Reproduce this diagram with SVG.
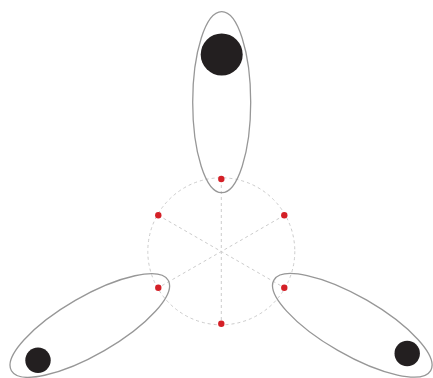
<svg xmlns="http://www.w3.org/2000/svg" width="433" height="378" viewBox="0 0 433 378">
<style>
.guide{fill:none;stroke:#cccccc;stroke-width:1;stroke-dasharray:3 3}
.lobe{fill:none;stroke:#979797;stroke-width:1.3}
.mass{fill:#231f20}
.pt{fill:#d42027}
</style>
<rect width="433" height="378" fill="#ffffff"/>
<g id="connectors">
<circle class="guide" cx="221.3" cy="251.3" r="73.5"/>
<line class="guide" x1="221.3" y1="179" x2="221.3" y2="323.7"/>
<line class="guide" x1="158.3" y1="215.3" x2="284.3" y2="287.7"/>
<line class="guide" x1="284.3" y1="215.3" x2="158.3" y2="287.7"/>
</g>
<g id="lobe-top">
<ellipse class="lobe" cx="221.7" cy="102.2" rx="29" ry="90.5"/>
<circle class="mass" cx="221.7" cy="54.5" r="21"/>
</g>
<g id="lobe-right">
<ellipse class="lobe" cx="352.3" cy="325.3" rx="29" ry="90.5" transform="rotate(-60 352.3 325.3)"/>
<circle class="mass" cx="407.2" cy="353.5" r="12.7"/>
</g>
<g id="lobe-left">
<ellipse class="lobe" cx="89.8" cy="325.5" rx="29" ry="90.5" transform="rotate(60 89.8 325.5)"/>
<circle class="mass" cx="38" cy="360.3" r="12.7"/>
</g>
<g id="points">
<circle class="pt" cx="221.3" cy="179" r="3.2"/>
<circle class="pt" cx="284.3" cy="215.3" r="3.2"/>
<circle class="pt" cx="284.3" cy="287.7" r="3.2"/>
<circle class="pt" cx="221.3" cy="323.7" r="3.2"/>
<circle class="pt" cx="158.3" cy="287.7" r="3.2"/>
<circle class="pt" cx="158.3" cy="215.3" r="3.2"/>
</g>
</svg>
